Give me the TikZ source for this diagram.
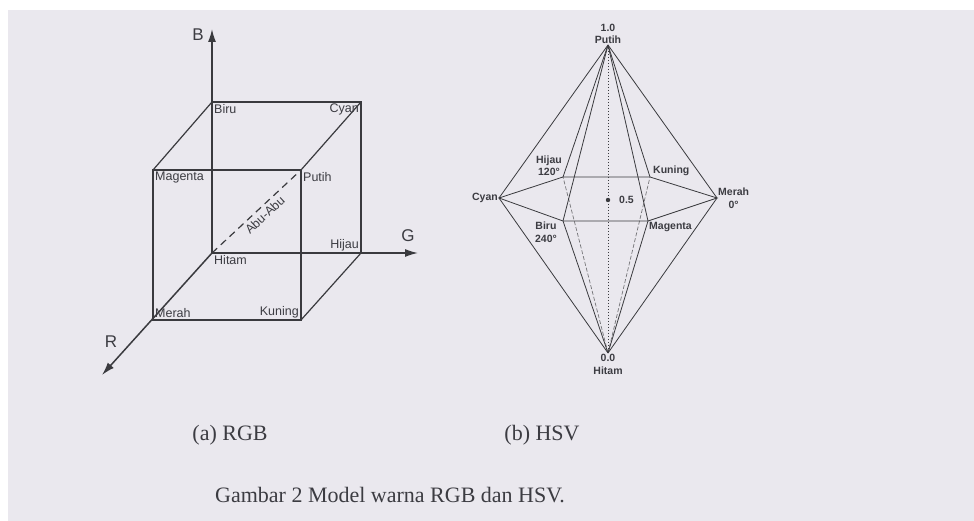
\documentclass[tikz,border=0pt]{standalone}
\usepackage{fontspec}
\setmainfont{Liberation Serif}
\setsansfont{Liberation Sans}
\usetikzlibrary{arrows.meta}
\definecolor{bgpaper}{RGB}{234,232,238}
\definecolor{ink}{RGB}{58,58,62}
\definecolor{txt}{RGB}{60,60,66}
\tikzset{
  cubeline/.style={draw=ink, line width=1.2pt},
  axisline/.style={draw=ink, line width=1.5pt, -{Latex[length=13pt,width=8pt]}},
  cubelab/.style={font=\sffamily\fontsize{12.5}{13}\selectfont, text=txt, inner sep=2pt},
  axislab/.style={font=\sffamily\fontsize{17}{18}\selectfont, text=txt, inner sep=0pt},
  hsvline/.style={draw=ink, line width=0.8pt},
  hsvhidden/.style={draw=ink!70, line width=0.7pt, dash pattern=on 4pt off 2pt},
  hsvlab/.style={font=\sffamily\bfseries\fontsize{10.5}{12.5}\selectfont, text=txt, inner sep=1pt, align=center},
  caplab/.style={font=\fontsize{22}{24}\selectfont, text=txt, inner sep=0pt}
}
\begin{document}
\begin{tikzpicture}[x=1pt,y=-1pt]
\useasboundingbox (0,0) rectangle (974,521);
\fill[white] (0,0) rectangle (974,521);
\fill[bgpaper] (8,10) rectangle (974,521);

% ---------- RGB cube ----------
\coordinate (Hitam) at (212,253);
\coordinate (Hijau) at (361,253);
\coordinate (Biru) at (212,102);
\coordinate (Cyan) at (361,102);
\coordinate (Merah) at (153,320);
\coordinate (Kuning) at (301,320);
\coordinate (Magenta) at (153,170);
\coordinate (Putih) at (301,170);
\coordinate (Btip) at (212,29);
\coordinate (Gtip) at (418,253);
\coordinate (Rtip) at (102,375);

\draw[axisline] (Hitam) -- (Btip);
\draw[axisline] (Hitam) -- (Gtip);
\draw[axisline] (Hitam) -- (Rtip);

\draw[cubeline] (Biru) -- (Cyan) -- (Hijau);
\draw[cubeline] (Magenta) -- (Putih) -- (Kuning) -- (Merah) -- cycle;
\draw[cubeline] (Biru) -- (Magenta);
\draw[cubeline] (Cyan) -- (Putih);
\draw[cubeline] (Hijau) -- (Kuning);
\draw[draw=ink, line width=1.2pt, dash pattern=on 7pt off 5pt] (Hitam) -- (Putih)
  node[cubelab, pos=0.53, sloped, anchor=north, inner sep=3pt] (labu) {Abu-Abu};

\node[cubelab, anchor=north west] (lbiru) at (Biru) {Biru};
\node[cubelab, anchor=north east] (lcyan) at (Cyan) {Cyan};
\node[cubelab, anchor=north west] (lmag) at (Magenta) {Magenta};
\node[cubelab, anchor=north west] (lput) at (Putih) {Putih};
\node[cubelab, anchor=north west] (lhit) at (Hitam) {Hitam};
\node[cubelab, anchor=south east] (lhij) at (Hijau) {Hijau};
\node[cubelab, anchor=south west] (lmer) at (Merah) {Merah};
\node[cubelab, anchor=south east] (lkun) at (Kuning) {Kuning};

\node[axislab] (lB) at (198,35) {B};
\node[axislab] (lG) at (408,236) {G};
\node[axislab] (lR) at (111,342) {R};

% ---------- HSV double hexcone ----------
\coordinate (Top) at (608,45);
\coordinate (Bot) at (608,353);
\coordinate (hCyan) at (499,198);
\coordinate (hMerah) at (717,198);
\coordinate (hHijau) at (563,177);
\coordinate (hKuning) at (650,177);
\coordinate (hBiru) at (563,221);
\coordinate (hMagenta) at (648,221);
\coordinate (hMid) at (608,200);

\draw[hsvhidden] (Bot) -- (hHijau);
\draw[hsvhidden] (Bot) -- (hKuning);
\draw[draw=ink, line width=0.8pt, dash pattern=on 1.2pt off 1.8pt] (Top) -- (Bot);
\draw[hsvline] (hCyan) -- (hHijau) -- (hKuning) -- (hMerah) -- (hMagenta) -- (hBiru) -- cycle;
\foreach \v in {hCyan,hHijau,hKuning,hMerah,hMagenta,hBiru}
  \draw[hsvline] (Top) -- (\v);
\foreach \v in {hCyan,hMerah,hMagenta,hBiru}
  \draw[hsvline] (Bot) -- (\v);
\fill[ink] (hMid) circle (2.2pt);

\node[hsvlab, anchor=south] (ltop) at (Top) {1.0\\Putih};
\node[hsvlab, anchor=north] (lbot) at (Bot) {0.0\\Hitam};
\node[hsvlab, anchor=east] (lhcyan) at (hCyan) {Cyan};
\node[hsvlab, anchor=west] (lhmer) at (hMerah) {Merah\\0°};
\node[hsvlab, anchor=south east] (lhhij) at (hHijau) {Hijau\\120°};
\node[hsvlab, anchor=south west, xshift=2pt] (lhkun) at (hKuning) {Kuning};
\node[hsvlab, anchor=north east, xshift=-5pt] (lhbiru) at (hBiru) {Biru\\240°};
\node[hsvlab, anchor=north west] (lhmag) at (hMagenta) {Magenta};
\node[hsvlab, anchor=west, xshift=10pt] (lmid) at (hMid) {0.5};

% ---------- captions ----------
\node[caplab] (capa) at (230,435) {(a) RGB};
\node[caplab] (capb) at (542,435) {(b) HSV};
\node[caplab] (capall) at (390,495) {Gambar 2 Model warna RGB dan HSV.};
\end{tikzpicture}
\end{document}
